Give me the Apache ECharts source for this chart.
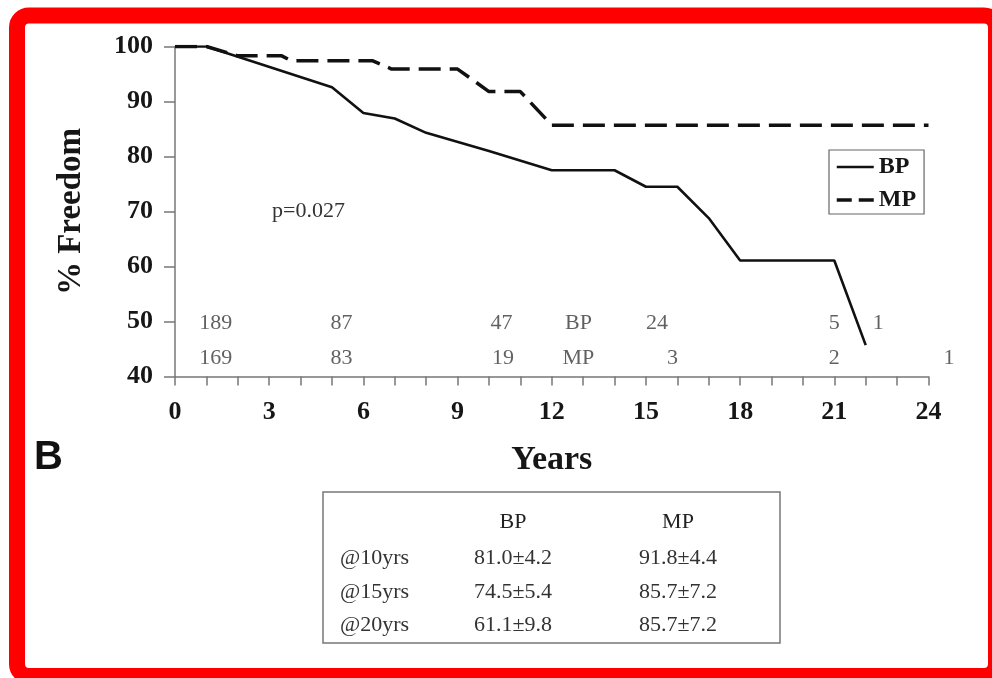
<!DOCTYPE html>
<html><head><meta charset="utf-8">
<script src="https://cdn.jsdelivr.net/npm/echarts@6/dist/echarts.min.js"></script>
<style>html,body{margin:0;padding:0;background:#fff}#chart{width:992px;height:678px}</style>
</head><body><div id="chart"></div>
<script>
// Freedom from event over follow-up, two groups (BP, MP)
const bpYears   = [0, 1, 5, 6, 7, 8, 10, 12, 14, 15, 16, 17, 18, 21, 22];
const bpFreedom = [100, 100, 92.6, 87.9, 86.9, 84.3, 81.0, 77.5, 77.5, 74.5, 74.5, 68.8, 61.1, 61.1, 45.7];
const mpYears   = [0, 1, 2, 3.4, 3.7, 6.3, 6.9, 9, 10, 11, 12, 24];
const mpFreedom = [100, 100, 98.3, 98.3, 97.4, 97.4, 95.9, 95.9, 91.8, 91.8, 85.7, 85.7];

// Patients at risk, written under the curves
const riskYearsBP  = [1.3, 5.3, 10.4, 15.35, 21.0, 22.4];
const riskCountsBP = ['189', '87', '47', '24', '5', '1'];
const riskYearsMP  = [1.3, 5.3, 10.45, 15.85, 21.0, 24.65];
const riskCountsMP = ['169', '83', '19', '3', '2', '1'];
const riskGroupYear = 12.85;

// Summary table: estimate and standard error at fixed time points
const summaryTimes = ['@10yrs', '@15yrs', '@20yrs'];
const summaryBP = [[81.0, 4.2], [74.5, 5.4], [61.1, 9.8]];
const summaryMP = [[91.8, 4.4], [85.7, 7.2], [85.7, 7.2]];

const pValueText = 'p=0.027';
const groupNames = ['BP', 'MP'];

const SERIF = '"Liberation Serif", "DejaVu Serif", serif';
const INK = '#161616';

const zip = (xs, ys) => xs.map((x, i) => [x, ys[i]]);
const fmt = (pair) => pair[0].toFixed(1) + '\u00b1' + pair[1].toFixed(1);

const riskRowBP = 49.6, riskRowMP = 43.4;
const riskData = [
  ...riskYearsBP.map((x, i) => [x, riskRowBP, riskCountsBP[i]]),
  [riskGroupYear, riskRowBP, groupNames[0]],
  ...riskYearsMP.map((x, i) => [x, riskRowMP, riskCountsMP[i]]),
  [riskGroupYear, riskRowMP, groupNames[1]]
];

// Table graphic elements
const tbl = { left: 323, top: 492, width: 457, height: 151, colBP: 513, colMP: 678, colLabel: 340 };
const tableTexts = [];
const regular = '22px ' + SERIF;
tableTexts.push({ type: 'text', style: { text: groupNames[0], x: tbl.colBP, y: 522, font: regular, fill: '#222', align: 'center', verticalAlign: 'middle' } });
tableTexts.push({ type: 'text', style: { text: groupNames[1], x: tbl.colMP, y: 522, font: regular, fill: '#222', align: 'center', verticalAlign: 'middle' } });
const rowY = [558, 592, 625];
summaryTimes.forEach((t, i) => {
  tableTexts.push({ type: 'text', style: { text: t, x: tbl.colLabel, y: rowY[i], font: regular, fill: '#333', align: 'left', verticalAlign: 'middle' } });
  tableTexts.push({ type: 'text', style: { text: fmt(summaryBP[i]), x: tbl.colBP, y: rowY[i], font: regular, fill: '#333', align: 'center', verticalAlign: 'middle' } });
  tableTexts.push({ type: 'text', style: { text: fmt(summaryMP[i]), x: tbl.colMP, y: rowY[i], font: regular, fill: '#333', align: 'center', verticalAlign: 'middle' } });
});

const chart = echarts.init(document.getElementById('chart'), null, { renderer: 'canvas' });
chart.setOption({
  backgroundColor: '#fff',
  animation: false,
  grid: { left: 175, top: 46.5, right: 63.5, bottom: 301.5 },
  legend: {
    data: [
      { name: groupNames[0], lineStyle: { width: 2.6 } },
      { name: groupNames[1], lineStyle: { type: [15, 7], width: 3.5 } }
    ],
    orient: 'vertical', left: 829, top: 150,
    padding: [5, 8, 2, 6], itemGap: 9, itemWidth: 37, itemHeight: 14,
    itemStyle: { opacity: 0 },
    borderColor: '#666', borderWidth: 1.2, borderRadius: 0,
    textStyle: { fontFamily: SERIF, fontWeight: 'bold', fontSize: 24, color: INK, lineHeight: 23 },
    selectedMode: false
  },
  xAxis: {
    type: 'value', min: 0, max: 24, interval: 1,
    axisLine: { show: true, onZero: false, lineStyle: { color: '#777', width: 1.5 } },
    axisTick: { show: true, length: 9, lineStyle: { color: '#777', width: 1.5 } },
    axisLabel: {
      formatter: (v) => (v % 3 === 0 ? String(v) : ''),
      fontFamily: SERIF, fontWeight: 'bold', fontSize: 26, color: INK, margin: 23
    },
    splitLine: { show: false },
    name: 'Years', nameLocation: 'middle', nameGap: 67,
    nameTextStyle: { fontFamily: SERIF, fontWeight: 'bold', fontSize: 34, color: INK }
  },
  yAxis: {
    type: 'value', min: 40, max: 100, interval: 10,
    axisLine: { show: true, onZero: false, lineStyle: { color: '#777', width: 1.5 } },
    axisTick: { show: true, length: 11, lineStyle: { color: '#777', width: 1.5 } },
    axisLabel: { fontFamily: SERIF, fontWeight: 'bold', fontSize: 26, color: INK, margin: 22 },
    splitLine: { show: false },
    name: '% Freedom', nameLocation: 'middle', nameGap: 87, nameRotate: 90,
    nameTextStyle: { fontFamily: SERIF, fontWeight: 'bold', fontSize: 33, color: INK }
  },
  series: [
    {
      name: groupNames[0], type: 'line', data: zip(bpYears, bpFreedom),
      symbol: 'none', lineStyle: { color: '#111', width: 2.6 }, itemStyle: { color: '#111' }, z: 3
    },
    {
      name: groupNames[1], type: 'line', data: zip(mpYears, mpFreedom),
      symbol: 'none', lineStyle: { color: '#111', width: 3.5, type: [22, 9] }, itemStyle: { color: '#111' }, z: 2
    },
    {
      name: 'at risk', type: 'scatter', data: riskData, symbolSize: 0, silent: true, clip: false,
      label: {
        show: true, position: 'inside', formatter: (p) => p.value[2],
        fontFamily: SERIF, fontSize: 22, color: '#3a3a3a'
      }
    }
  ],
  graphic: [
    // red frame
    { type: 'rect', shape: { x: 17, y: 15.5, width: 979, height: 660.5, r: 12 },
      style: { fill: 'none', stroke: '#ff0000', lineWidth: 16 }, z: 100 },
    { type: 'text', style: { text: 'B', x: 34, y: 458, font: 'bold 40px "Liberation Sans", Arial, sans-serif', fill: '#111', align: 'left', verticalAlign: 'middle' } },
    { type: 'text', style: { text: pValueText, x: 272, y: 211, font: regular, fill: '#333', align: 'left', verticalAlign: 'middle' } },
    { type: 'rect', shape: { x: tbl.left, y: tbl.top, width: tbl.width, height: tbl.height },
      style: { fill: 'none', stroke: '#777', lineWidth: 1.5 } },
    ...tableTexts
  ]
});
</script></body></html>
